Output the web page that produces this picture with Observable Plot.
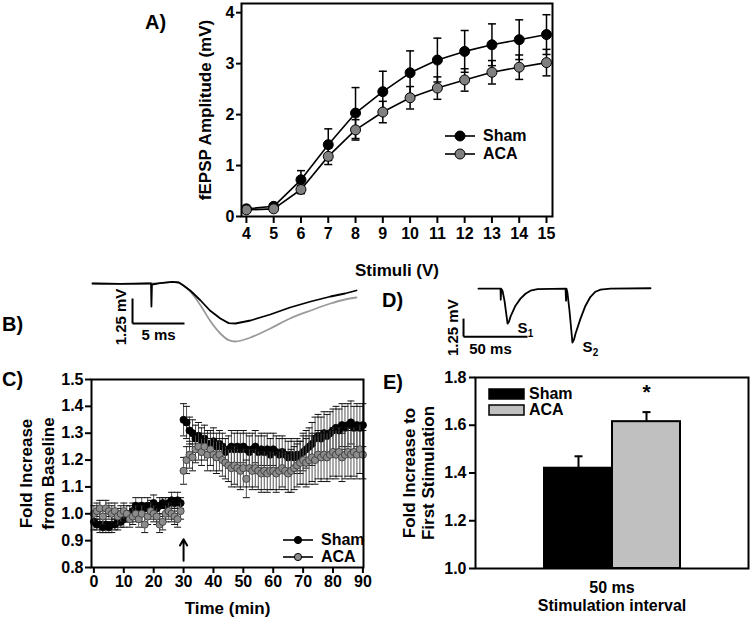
<!DOCTYPE html>
<html><head><meta charset="utf-8">
<script src="https://cdn.jsdelivr.net/npm/d3@7"></script>
<script src="https://cdn.jsdelivr.net/npm/@observablehq/plot@0.6"></script>
<style>
body{margin:0;background:#fff;}
#fig{position:relative;width:750px;height:618px;font-family:"Liberation Sans",Arial,Helvetica,sans-serif;font-weight:bold;color:#000;overflow:hidden;}
.panel{position:absolute;}
.lab{position:absolute;font-size:20px;font-weight:bold;line-height:1;}
.leg{position:absolute;font-size:16px;font-weight:bold;display:flex;align-items:center;height:16px;line-height:1;}
.leg svg{display:block;}
</style></head><body><div id="fig"></div>
<script>
// ---------- Panel A data ----------
const stimuliA = [4,5,6,7,8,9,10,11,12,13,14,15];
const shamA    = [0.15,0.20,0.72,1.41,2.03,2.45,2.82,3.07,3.24,3.37,3.47,3.57];
const shamErrA = [0.02,0.03,0.18,0.31,0.50,0.40,0.43,0.43,0.41,0.41,0.39,0.39];
const acaA     = [0.13,0.15,0.53,1.18,1.70,2.05,2.33,2.52,2.68,2.83,2.93,3.02];
const acaErrA  = [0.02,0.03,0.08,0.16,0.20,0.21,0.22,0.22,0.22,0.23,0.24,0.26];
const yTicksA  = [0,1,2,3,4];

// ---------- Panel B traces (ms, mV) ----------
const traceBShamT = [0,2.7,5.1,5.63,5.67,5.72,6.5,7.7,8.3,8.75,9.4,10.4,11.3,12.3,13.1,13.75,15.2,17.1,19.0,21.0,22.9,24.3,25.4];
const traceBShamV = [0,-0.02,0,0,-1.15,-0.05,0.02,0.08,0.05,-0.1,-0.35,-0.85,-1.35,-1.75,-1.98,-2.0,-1.85,-1.55,-1.2,-0.9,-0.65,-0.5,-0.35];
const traceBAcaT  = [0,2.7,5.1,6.5,7.7,8.3,8.75,9.4,10.4,11.3,12.3,13.1,13.75,15.2,17.1,19.0,21.0,22.9,24.3,25.4];
const traceBAcaV  = [0,-0.02,0,0.02,0.08,0.05,-0.1,-0.4,-1.1,-1.85,-2.5,-2.83,-2.9,-2.7,-2.25,-1.75,-1.35,-1.0,-0.8,-0.7];
const scaleBarB = {t:3.85, v:-2.0, dt:5, dv:1.25, tl:"5 ms", vl:"1.25 mV"};

// ---------- Panel D trace (ms, mV) ----------
const traceDT = [0,16.4,17.2,17.4,17.7,18.75,20.3,21.9,22.7,23.8,25.0,28.9,32.8,36.7,40.6,46.1,68.0,68.4,68.75,69.5,71.1,72.7,73.4,74.6,75.8,79.7,83.6,87.5,91.4,95.3,103.1,134.4];
const traceDV = [0,0,0,-0.76,0,-0.14,-0.83,-1.88,-2.43,-2.29,-1.94,-1.18,-0.69,-0.35,-0.14,-0.03,0,-0.83,0,-0.28,-1.53,-3.06,-3.75,-3.54,-3.13,-2.08,-1.18,-0.56,-0.21,-0.07,0,0.03];
const scaleBarD = {t:-11.7, v:-3.33, dt:50, dv:1.25, tl:"50 ms", vl:"1.25 mV"};
const peaksD = [{t:22.7, v:-2.43, s:"S", sub:"1"},{t:73.4, v:-3.75, s:"S", sub:"2"}];

// ---------- Panel C data ----------
const timeC = [0,1,2,3,4,5,6,7,8,9,10,11,12,13,14,15,16,17,18,19,20,21,22,23,24,25,26,27,28,29,30,31,32,33,34,35,36,37,38,39,40,41,42,43,44,45,46,47,48,49,50,51,52,53,54,55,56,57,58,59,60,61,62,63,64,65,66,67,68,69,70,71,72,73,74,75,76,77,78,79,80,81,82,83,84,85,86,87,88,89,90];
const shamC = [0.97,0.96,0.96,0.95,0.96,0.95,0.96,0.96,0.97,0.97,
  0.98,0.99,1.00,1.01,1.03,1.02,1.03,1.02,1.03,1.03,
  1.04,1.02,1.03,1.04,1.03,1.04,1.05,1.04,1.05,1.04,
  1.35,1.34,1.31,1.30,1.28,1.29,1.27,1.28,1.26,1.26,
  1.27,1.25,1.26,1.25,1.23,1.24,1.25,1.24,1.25,1.24,
  1.25,1.24,1.23,1.24,1.25,1.23,1.24,1.23,1.24,1.22,
  1.24,1.23,1.22,1.23,1.22,1.21,1.22,1.21,1.22,1.21,
  1.23,1.24,1.25,1.26,1.28,1.29,1.28,1.30,1.29,1.30,
  1.31,1.32,1.31,1.33,1.32,1.33,1.34,1.32,1.33,1.32,1.33];
const shamErrC = [0.03,0.02,0.03,0.02,0.03,0.02,0.03,0.02,0.03,0.02,
  0.03,0.02,0.03,0.03,0.03,0.02,0.03,0.02,0.03,0.02,
  0.03,0.02,0.03,0.02,0.03,0.02,0.03,0.02,0.03,0.02,
  0.06,0.06,0.05,0.05,0.05,0.05,0.05,0.05,0.05,0.05,
  0.05,0.05,0.05,0.05,0.05,0.05,0.06,0.06,0.06,0.06,
  0.06,0.06,0.06,0.06,0.06,0.06,0.06,0.06,0.06,0.06,
  0.06,0.06,0.06,0.06,0.06,0.06,0.06,0.06,0.06,0.06,
  0.07,0.07,0.07,0.08,0.08,0.08,0.08,0.08,0.08,0.08,
  0.08,0.08,0.08,0.08,0.08,0.08,0.08,0.08,0.08,0.08,0.08];
const acaC = [1.00,1.01,1.02,0.99,1.02,1.01,1.00,1.01,0.99,1.00,
  1.01,1.00,0.98,0.99,1.00,0.98,1.00,0.96,0.99,1.01,
  1.00,0.99,0.96,0.97,1.00,1.01,1.00,0.99,0.98,1.01,
  1.16,1.20,1.22,1.21,1.24,1.25,1.23,1.25,1.22,1.24,
  1.22,1.21,1.22,1.20,1.19,1.18,1.17,1.18,1.17,1.16,
  1.17,1.13,1.17,1.16,1.17,1.16,1.15,1.16,1.15,1.16,
  1.16,1.15,1.16,1.17,1.16,1.15,1.16,1.17,1.18,1.19,
  1.20,1.19,1.20,1.21,1.20,1.22,1.21,1.22,1.21,1.22,
  1.23,1.22,1.23,1.21,1.22,1.23,1.22,1.23,1.22,1.24,1.22];
const acaErrC = [0.03,0.03,0.03,0.03,0.03,0.03,0.03,0.03,0.03,0.03,
  0.03,0.03,0.03,0.03,0.03,0.03,0.03,0.03,0.03,0.03,
  0.03,0.03,0.03,0.03,0.03,0.03,0.03,0.03,0.03,0.03,
  0.05,0.05,0.05,0.05,0.05,0.05,0.05,0.05,0.06,0.06,
  0.06,0.06,0.06,0.06,0.06,0.06,0.07,0.07,0.07,0.07,
  0.07,0.07,0.07,0.07,0.07,0.07,0.07,0.07,0.07,0.07,
  0.07,0.07,0.07,0.07,0.07,0.07,0.08,0.08,0.08,0.08,
  0.09,0.09,0.09,0.09,0.09,0.09,0.09,0.09,0.09,0.09,
  0.09,0.09,0.09,0.09,0.09,0.09,0.09,0.09,0.09,0.09,0.09];
const xTicksC = [0,10,20,30,40,50,60,70,80,90];
const yTicksC = [0.8,0.9,1.0,1.1,1.2,1.3,1.4,1.5];
const arrowC = {t:30, from:0.825, to:0.905};

// ---------- Panel E data ----------
const groupsE = ["Sham","ACA"];
const valuesE = [1.42,1.615];
const errE    = [0.05,0.04];
const colorsE = ["#000000","#c0c0c0"];
const yTicksE = [1.0,1.2,1.4,1.6,1.8];
const sigE    = ["","*"];

// ---------- helpers ----------
const FONT = '"Liberation Sans", Arial, Helvetica, sans-serif';
const STYLE = {fontFamily: FONT, fontSize: "16px", fontWeight: "bold", background: "transparent", color: "#000", overflow: "visible"};
const TICK = 16, TITLE = 17;
const cap = w => ({draw(ctx){ ctx.moveTo(-w,0); ctx.lineTo(w,0); }});
const fig = document.getElementById("fig");
function place(node, left, top, w, h){
  const d = document.createElement("div");
  d.className = "panel";
  d.style.left = left+"px"; d.style.top = top+"px";
  d.style.width = w+"px"; d.style.height = h+"px";
  d.appendChild(node); fig.appendChild(d);
}
function label(txt, left, top){
  const d = document.createElement("div");
  d.className = "lab"; d.textContent = txt;
  d.style.left = left+"px"; d.style.top = top+"px";
  fig.appendChild(d);
}
function lineLegend(txt, left, cy, fill, r, fs){
  const d = document.createElement("div");
  d.className = "leg";
  d.style.left = left+"px"; d.style.top = (cy-8)+"px";
  d.style.fontSize = fs+"px";
  d.innerHTML = `<svg width="30" height="16"><line x1="0" y1="8" x2="30" y2="8" stroke="#000" stroke-width="1.6"/><circle cx="15" cy="8" r="${r}" fill="${fill}" stroke="#000" stroke-width="1"/></svg><span style="margin-left:8px">${txt}</span>`;
  fig.appendChild(d);
}
function rectLegend(txt, left, cy, fill){
  const d = document.createElement("div");
  d.className = "leg";
  d.style.left = left+"px"; d.style.top = (cy-8)+"px";
  d.innerHTML = `<svg width="37" height="12"><rect x="1" y="1" width="35" height="10" fill="${fill}" stroke="#000" stroke-width="1.5"/></svg><span style="margin-left:4px">${txt}</span>`;
  fig.appendChild(d);
}
function vTitle(txt, dx, lh){
  return Plot.text([0], {text:()=>txt, frameAnchor:"left", dx, rotate:-90, textAnchor:"middle", lineAnchor:"middle", fontSize:TITLE, lineHeight:lh, fontWeight:"bold"});
}
function hTitle(txt, dy, fs){
  return Plot.text([0], {text:()=>txt, frameAnchor:"bottom", dy, textAnchor:"middle", lineAnchor:"middle", fontSize:fs || TITLE, fontWeight:"bold"});
}
function errMarks(rows, stroke, sw, cw, capStroke){
  return [
    Plot.ruleX(rows, {x:"x", y1:d=>d.y-d.e, y2:d=>d.y+d.e, stroke, strokeWidth:sw}),
    Plot.dot(rows, {x:"x", y:d=>d.y+d.e, symbol:cap(cw), r:1, fill:"none", stroke:capStroke, strokeWidth:sw}),
    Plot.dot(rows, {x:"x", y:d=>d.y-d.e, symbol:cap(cw), r:1, fill:"none", stroke:capStroke, strokeWidth:sw})
  ];
}

// ---------- Panel A ----------
const rowsShamA = stimuliA.map((s,i)=>({x:s, y:shamA[i], e:shamErrA[i]}));
const rowsAcaA  = stimuliA.map((s,i)=>({x:s, y:acaA[i],  e:acaErrA[i]}));
const plotA = Plot.plot({
  width:560, height:290, marginLeft:241, marginRight:8, marginTop:3, marginBottom:74,
  style: STYLE,
  x:{domain:[3.82,15.22]},
  y:{domain:[0,4.18]},
  marks:[
    Plot.axisX({ticks:stimuliA, tickSize:7, tickPadding:4, strokeWidth:2, label:null, fontSize:TICK, tickFormat:d3.format("d")}),
    Plot.axisY({ticks:yTicksA, tickSize:5, tickPadding:2, strokeWidth:2, label:null, fontSize:TICK, tickFormat:d3.format("d")}),
    ...errMarks(rowsShamA, "#000", 1.5, 4, "#000"),
    Plot.line(rowsShamA, {x:"x", y:"y", stroke:"#000", strokeWidth:1.6}),
    Plot.dot(rowsShamA, {x:"x", y:"y", r:5, fill:"#000", stroke:"#000", strokeWidth:1}),
    ...errMarks(rowsAcaA, "#000", 1.5, 4, "#000"),
    Plot.line(rowsAcaA, {x:"x", y:"y", stroke:"#000", strokeWidth:1.6}),
    Plot.dot(rowsAcaA, {x:"x", y:"y", r:5, fill:"#808080", stroke:"#000", strokeWidth:1}),
    Plot.frame({stroke:"#000", strokeWidth:2}),
    hTitle("Stimuli (V)", 54),
    vTitle("fEPSP Amplitude (mV)", -36, 1)
  ]
});
place(plotA, 0, 0, 560, 290);
lineLegend("Sham", 445, 136, "#000", 5, 16);
lineLegend("ACA", 445, 154, "#808080", 5, 16);

// ---------- Panel B ----------
const rowsBSham = traceBShamT.map((t,i)=>({t, v:traceBShamV[i]}));
const rowsBAca  = traceBAcaT.map((t,i)=>({t, v:traceBAcaV[i]}));
function scaleBarMarks(sb, vdx, vdy, tdx, tdy){
  return [
    Plot.link([sb], {x1:"t", x2:"t", y1:"v", y2:d=>d.v+d.dv, stroke:"#000", strokeWidth:2}),
    Plot.link([sb], {x1:"t", x2:d=>d.t+d.dt, y1:"v", y2:"v", stroke:"#000", strokeWidth:2}),
    Plot.text([sb], {x:"t", y:d=>d.v+d.dv/2, text:"vl", dx:vdx, dy:vdy, rotate:-90, fontSize:15, fontWeight:"bold"}),
    Plot.text([sb], {x:d=>d.t+d.dt/2, y:"v", text:"tl", dx:tdx, dy:tdy, fontSize:15, fontWeight:"bold"})
  ];
}
const plotB = Plot.plot({
  width:290, height:90, marginLeft:12, marginRight:14, marginTop:3, marginBottom:7,
  style: STYLE,
  x:{domain:[0,25.4], axis:null},
  y:{domain:[-3.5,0.5], axis:null},
  marks:[
    Plot.line(rowsBAca, {x:"t", y:"v", stroke:"#9a9a9a", strokeWidth:1.8, curve:"monotone-x"}),
    Plot.line(rowsBSham, {x:"t", y:"v", stroke:"#000", strokeWidth:1.8}),
    ...scaleBarMarks(scaleBarB, -11, 6, 0, 12)
  ]
});
place(plotB, 80, 270, 290, 90);

// ---------- Panel D ----------
const rowsD = traceDT.map((t,i)=>({t, v:traceDV[i]}));
const plotD = Plot.plot({
  width:230, height:100, marginLeft:38, marginRight:20, marginTop:11, marginBottom:17,
  style: STYLE,
  x:{domain:[0,134.4], axis:null},
  y:{domain:[-4.5,0.5], axis:null},
  marks:[
    Plot.line(rowsD, {x:"t", y:"v", stroke:"#000", strokeWidth:1.8}),
    ...scaleBarMarks(scaleBarD, -10, 0, -5, 13),
    Plot.text(peaksD, {x:"t", y:"v", text:"s", dx:15, dy:4, fontSize:15, fontWeight:"bold"}),
    Plot.text(peaksD, {x:"t", y:"v", text:"sub", dx:23, dy:10, fontSize:10, fontWeight:"bold"})
  ]
});
place(plotD, 440, 270, 230, 100);

// ---------- Panel C ----------
const rowsShamC = timeC.map((t,i)=>({x:t, y:shamC[i], e:shamErrC[i]}));
const rowsAcaC  = timeC.map((t,i)=>({x:t, y:acaC[i],  e:acaErrC[i]}));
const plotC = Plot.plot({
  width:375, height:248, marginLeft:91, marginRight:12, marginTop:9, marginBottom:51,
  style: STYLE,
  x:{domain:[-0.8,90.2]},
  y:{domain:[0.8,1.5]},
  marks:[
    Plot.axisX({ticks:xTicksC, tickSize:6, tickPadding:2, strokeWidth:2, label:null, fontSize:TICK, tickFormat:d3.format("d")}),
    Plot.axisY({ticks:yTicksC, tickSize:6, tickPadding:2, strokeWidth:2, label:null, fontSize:TICK, tickFormat:d3.format(".1f")}),
    ...errMarks(rowsShamC, "#555", 1, 3.5, "#111"),
    Plot.dot(rowsShamC, {x:"x", y:"y", r:3.6, fill:"#000", stroke:"#000", strokeWidth:0.8}),
    ...errMarks(rowsAcaC, "#555", 1, 3.5, "#111"),
    Plot.dot(rowsAcaC, {x:"x", y:"y", r:3.6, fill:"#8c8c8c", stroke:"#333", strokeWidth:0.8}),
    Plot.arrow([arrowC], {x1:"t", x2:"t", y1:"from", y2:"to", stroke:"#000", strokeWidth:2, headLength:9}),
    Plot.frame({stroke:"#000", strokeWidth:2}),
    hTitle("Time (min)", 41),
    vTitle("Fold Increase\nfrom Baseline", -56, 1.3)
  ]
});
place(plotC, 0, 370, 375, 248);
lineLegend("Sham", 283, 540, "#000", 3.6, 16);
lineLegend("ACA", 283, 557, "#8c8c8c", 3.6, 16);

// ---------- Panel E ----------
const rowsE = groupsE.map((g,i)=>({g, y:valuesE[i], e:errE[i], c:colorsE[i], s:sigE[i]}));
const plotE = Plot.plot({
  width:370, height:248, marginLeft:95, marginRight:2, marginTop:7, marginBottom:50,
  style: STYLE,
  x:{domain:["_l", ...groupsE, "_r"], padding:0, axis:null},
  y:{domain:[1.0,1.8]},
  color:{type:"identity"},
  marks:[
    Plot.axisY({ticks:yTicksE, tickSize:6, tickPadding:3, strokeWidth:2, label:null, fontSize:TICK, tickFormat:d3.format(".1f")}),
    Plot.ruleX(rowsE, {x:"g", y1:"y", y2:d=>d.y+d.e, stroke:"#000", strokeWidth:2}),
    Plot.dot(rowsE, {x:"g", y:d=>d.y+d.e, symbol:cap(4), r:1, fill:"none", stroke:"#000", strokeWidth:2}),
    Plot.barY(rowsE, {x:"g", y1:()=>1.0, y2:"y", fill:"c", stroke:"#000", strokeWidth:2, inset:0}),
    Plot.text(rowsE, {x:"g", y:d=>d.y+d.e, text:"s", dy:-20, fontSize:21, fontWeight:"bold"}),
    Plot.frame({stroke:"#000", strokeWidth:2}),
    hTitle("50 ms", 19, 16),
    hTitle("Stimulation interval", 37, 16),
    vTitle("Fold Increase to\nFirst Stimulation", -57, 1.1)
  ]
});
place(plotE, 380, 370, 370, 248);
rectLegend("Sham", 488, 394, "#000");
rectLegend("ACA", 488, 410, "#c0c0c0");

// ---------- Panel labels ----------
label("A)", 145, 12);
label("B)", 2, 314);
label("C)", 2, 369);
label("D)", 382, 290);
label("E)", 383, 372);
</script></body></html>
